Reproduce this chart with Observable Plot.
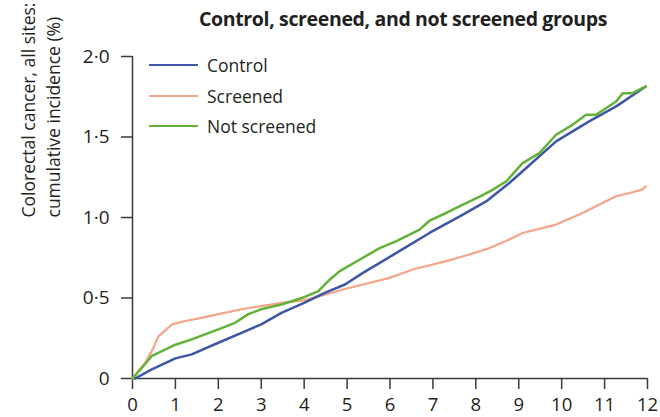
<!DOCTYPE html>
<html>
<head>
<meta charset="utf-8">
<script src="https://cdn.jsdelivr.net/npm/d3@7"></script>
<script src="https://cdn.jsdelivr.net/npm/@observablehq/plot@0.6"></script>
<style>
  html, body { margin: 0; padding: 0; background: #fff; }
  #wrap { position: relative; width: 660px; height: 417px; font-family: "Open Sans", sans-serif; color: #231f20; }
  #title { position: absolute; left: 0; width: 660px; top: 5px; text-align: center; padding-left: 146px; box-sizing: border-box; font-weight: 700; font-size: 19.5px; letter-spacing: -0.35px; }
  #legend { position: absolute; left: 149px; top: 50px; }
  .item { position: relative; height: 30.5px; display: flex; align-items: center; font-size: 17.5px; }
  .sw { width: 49px; height: 0; border-top-style: solid; margin-right: 9px; }
</style>
</head>
<body>
<div id="wrap">
  <div id="chart"></div>
  <div id="title">Control, screened, and not screened groups</div>
  <div id="legend"></div>
</div>
<script>
// Series names and colours
const seriesNames = ["Control", "Screened", "Not screened"];
const seriesColors = ["#3d56a6", "#f6a487", "#62b238"];

// Control group (years, cumulative incidence %)
const controlYears = [0.06, 0.45, 1, 1.38, 2, 2.54, 3, 3.47, 4, 4.48, 4.95, 5.37, 6.15, 6.92, 7.7, 8.24, 8.78, 9.09, 9.87, 10.64, 11.27, 11.96];
const controlValues = [0, 0.057, 0.125, 0.15, 0.222, 0.284, 0.336, 0.408, 0.47, 0.532, 0.584, 0.656, 0.78, 0.904, 1.018, 1.10, 1.214, 1.287, 1.473, 1.597, 1.69, 1.814];

// Screened group
const screenedYears = [0, 0.3, 0.45, 0.6, 0.92, 1.23, 1.61, 2, 2.54, 3, 3.47, 4, 4.48, 4.9, 5.37, 5.99, 6.53, 7.31, 7.85, 8.32, 8.78, 9.09, 9.87, 10.49, 10.95, 11.27, 11.58, 11.88, 11.96];
const screenedValues = [0, 0.10, 0.17, 0.26, 0.336, 0.357, 0.377, 0.40, 0.43, 0.45, 0.47, 0.485, 0.52, 0.553, 0.584, 0.625, 0.677, 0.729, 0.77, 0.81, 0.863, 0.904, 0.956, 1.028, 1.09, 1.132, 1.152, 1.173, 1.194];

// Not screened group
const notScreenedYears = [0, 0.22, 0.45, 0.76, 1, 1.38, 1.69, 2, 2.39, 2.7, 3, 3.47, 4, 4.33, 4.6, 4.83, 5.37, 5.76, 6.15, 6.69, 6.92, 7.31, 7.7, 8.09, 8.4, 8.71, 9.09, 9.48, 9.87, 10.26, 10.57, 10.8, 11.27, 11.42, 11.65, 11.96];
const notScreenedValues = [0, 0.067, 0.14, 0.18, 0.21, 0.243, 0.274, 0.305, 0.346, 0.40, 0.43, 0.46, 0.505, 0.543, 0.615, 0.667, 0.75, 0.81, 0.853, 0.925, 0.98, 1.028, 1.08, 1.13, 1.173, 1.225, 1.338, 1.40, 1.514, 1.577, 1.638, 1.638, 1.721, 1.772, 1.772, 1.814];

// Axis ticks
const xTicks = [0, 1, 2, 3, 4, 5, 6, 7, 8, 9, 10, 11, 12];
const yTicks = [0, 0.5, 1, 1.5, 2];
const yLabelLines = ["Colorectal cancer, all sites:", "cumulative incidence (%)"];
const titleText = "Control, screened, and not screened groups";

const seriesYears = [controlYears, screenedYears, notScreenedYears];
const seriesValues = [controlValues, screenedValues, notScreenedValues];
const rows = [];
seriesNames.forEach((name, i) => {
  seriesYears[i].forEach((t, j) => rows.push({series: name, year: t, value: seriesValues[i][j]}));
});

const axisColor = "#3a3a3a";
const fmtY = d => d === 0 ? "0" : d3.format(".1f")(d).replace(".", "·");

const chart = Plot.plot({
  width: 660,
  height: 417,
  marginLeft: 132,
  marginRight: 13,
  marginTop: 56,
  marginBottom: 39,
  style: {fontFamily: "Open Sans, sans-serif", fontSize: "18px", color: "#231f20", background: "transparent"},
  x: {domain: [0, 12]},
  y: {domain: [0, 2]},
  color: {domain: seriesNames, range: seriesColors},
  marks: [
    Plot.ruleY([0], {x1: 0, x2: 12, stroke: axisColor, strokeWidth: 1.5}),
    Plot.ruleX([0], {y1: 0, y2: 2, stroke: axisColor, strokeWidth: 1.5}),
    Plot.axisX({ticks: xTicks, tickSize: 11, tickPadding: 8, stroke: axisColor, strokeWidth: 1.5, label: null, tickFormat: d3.format("d"), fontSize: 18.5}),
    Plot.axisY({ticks: yTicks, tickSize: 11, tickPadding: 12, stroke: axisColor, strokeWidth: 1.5, label: null, tickFormat: fmtY, fontSize: 19}),
    Plot.text([yLabelLines[0]], {frameAnchor: "left", rotate: -90, dx: -103, dy: 0, fontSize: 17.5, fill: "#231f20"}),
    Plot.text([yLabelLines[1]], {frameAnchor: "left", rotate: -90, dx: -78, dy: 0, fontSize: 17.5, fill: "#231f20"}),
    Plot.line(rows.filter(d => d.series === "Screened"), {x: "year", y: "value", stroke: "series", strokeWidth: 2.2}),
    Plot.line(rows.filter(d => d.series === "Control"), {x: "year", y: "value", stroke: "series", strokeWidth: 2.5}),
    Plot.line(rows.filter(d => d.series === "Not screened"), {x: "year", y: "value", stroke: "series", strokeWidth: 2.5})
  ]
});
document.getElementById("chart").appendChild(chart);

document.getElementById("title").textContent = titleText;
const legend = document.getElementById("legend");
seriesNames.forEach((name, i) => {
  const item = document.createElement("div");
  item.className = "item";
  const sw = document.createElement("span");
  sw.className = "sw";
  sw.style.borderTopColor = seriesColors[i];
  sw.style.borderTopWidth = (i === 1 ? 2.2 : 2.5) + "px";
  const label = document.createElement("span");
  label.textContent = name;
  item.appendChild(sw);
  item.appendChild(label);
  legend.appendChild(item);
});
</script>
</body>
</html>
